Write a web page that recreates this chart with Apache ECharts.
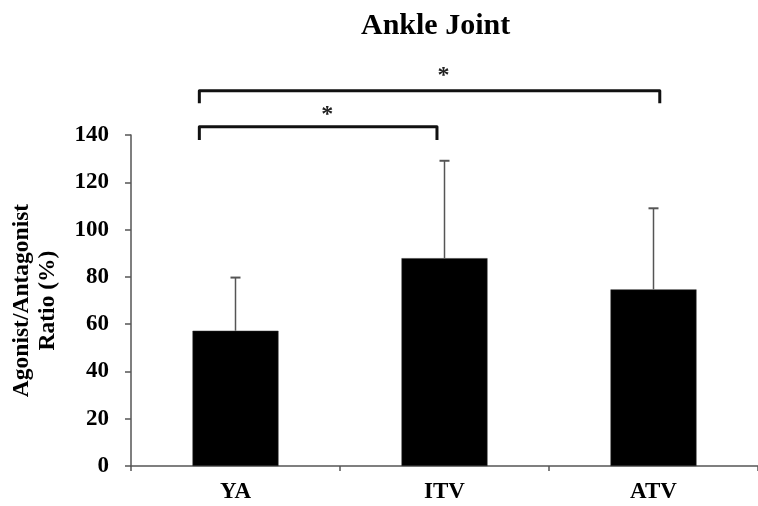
<!DOCTYPE html>
<html>
<head>
<meta charset="utf-8">
<script src="https://cdn.jsdelivr.net/npm/echarts@6/dist/echarts.min.js"></script>
<style>
html,body{margin:0;padding:0;background:#fff;}
#chart{width:758px;height:506px;}
</style>
</head>
<body>
<div id="chart"></div>
<script>
// ---- data ----
var categories = ['YA', 'ITV', 'ATV'];
var means = [57.2, 87.9, 74.7];
var upperErr = [79.7, 129.1, 109.0];   // mean + SD (top of error bar)
var yTicks = [0, 20, 40, 60, 80, 100, 120, 140];
var titleText = 'Ankle Joint';
var yName = 'Agonist/Antagonist\nRatio (%)';
// significance comparisons: [fromIndex, toIndex]
var comparisons = [[0, 2], [0, 1]];
var sigLabel = '*';

var FONT = '"Liberation Serif", "Times New Roman", serif';
var chart = echarts.init(document.getElementById('chart'), null, {renderer: 'canvas'});

var errData = categories.map(function (c, i) { return [i, means[i], upperErr[i]]; });
var bracketData = comparisons.map(function (c, k) { return [c[0], c[1], k]; });

// bracket layout (pixels relative to plot top) per comparison level
var bracketLayout = [
  {yOff: -44.3, drop: 12.5, leftFrac: -0.173, rightFrac: 0.03, starDx: 14, starDy: -15},
  {yOff: -8.3, drop: 13.3, leftFrac: -0.173, rightFrac: -0.036, starDx: 9, starDy: -12}
];

var option = {
  animation: false,
  backgroundColor: '#fff',
  title: {
    text: titleText,
    left: 356,
    top: 6,
    textStyle: {fontFamily: FONT, fontWeight: 'bold', fontSize: 30, color: '#000'}
  },
  grid: {left: 131, top: 135, right: -13, bottom: 40, containLabel: false},
  xAxis: {
    type: 'category',
    data: categories,
    axisLine: {lineStyle: {color: '#555', width: 1.5}},
    axisTick: {show: true, length: 5, inside: false, lineStyle: {color: '#555', width: 1.5}},
    axisLabel: {fontFamily: FONT, fontWeight: 'bold', fontSize: 23, color: '#000', margin: 15}
  },
  yAxis: {
    type: 'value',
    min: 0,
    max: yTicks[yTicks.length - 1],
    interval: yTicks[1] - yTicks[0],
    name: yName,
    nameLocation: 'middle',
    nameRotate: 90,
    nameGap: 70,
    nameTextStyle: {fontFamily: FONT, fontWeight: 'bold', fontSize: 23.5, color: '#000', lineHeight: 26},
    axisLine: {show: true, lineStyle: {color: '#555', width: 1.5}},
    axisTick: {show: true, length: 6, lineStyle: {color: '#555', width: 1.5}},
    splitLine: {show: false},
    axisLabel: {fontFamily: FONT, fontWeight: 'bold', fontSize: 23, color: '#000', margin: 22}
  },
  series: [
    {
      type: 'bar',
      data: means,
      barWidth: 86,
      itemStyle: {color: '#000', borderColor: '#333', borderWidth: 0.5}
    },
    {
      type: 'custom',
      data: errData,
      encode: {x: 0, y: [1, 2]},
      z: 5,
      renderItem: function (params, api) {
        var x = api.value(0);
        var base = api.coord([x, api.value(1)]);
        var top = api.coord([x, api.value(2)]);
        var cap = 5;
        return {
          type: 'group',
          children: [
            {type: 'line', shape: {x1: base[0], y1: base[1], x2: top[0], y2: top[1]},
             style: {stroke: '#555', lineWidth: 1.5}},
            {type: 'line', shape: {x1: top[0] - cap, y1: top[1], x2: top[0] + cap, y2: top[1]},
             style: {stroke: '#555', lineWidth: 2}}
          ]
        };
      }
    },
    {
      type: 'custom',
      data: bracketData,
      encode: {x: 0},
      clip: false,
      silent: true,
      renderItem: function (params, api) {
        var a = api.value(0), b = api.value(1), k = api.value(2);
        var L = bracketLayout[k];
        var band = api.size([1, 0])[0];
        var pa = api.coord([a, yTicks[yTicks.length - 1]]);
        var pb = api.coord([b, yTicks[yTicks.length - 1]]);
        var y = pa[1] + L.yOff;
        var x1 = pa[0] + L.leftFrac * band;
        var x2 = pb[0] + L.rightFrac * band;
        return {
          type: 'group',
          children: [
            {type: 'polyline',
             shape: {points: [[x1, y + L.drop], [x1, y], [x2, y], [x2, y + L.drop]]},
             style: {stroke: '#111', lineWidth: 3, fill: null, lineJoin: 'round'}},
            {type: 'text',
             style: {text: sigLabel, x: (x1 + x2) / 2 + L.starDx, y: y + L.starDy,
                     textAlign: 'center', textVerticalAlign: 'middle',
                     font: 'bold 24px ' + FONT, fill: '#222'}}
          ]
        };
      }
    }
  ]
};
chart.setOption(option);
</script>
</body>
</html>
